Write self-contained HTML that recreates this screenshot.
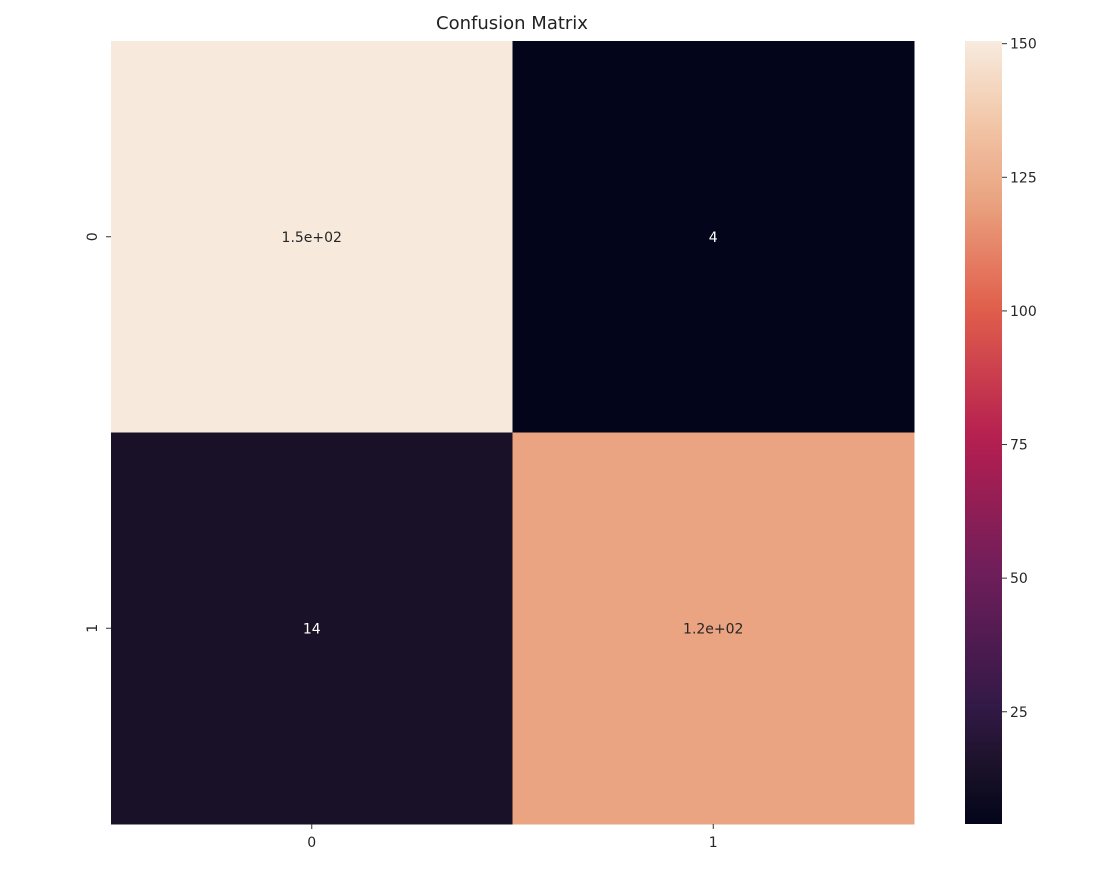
<!DOCTYPE html>
<html><head><meta charset="utf-8"><style>
body{margin:0;background:#fff;font-family:"Liberation Sans","DejaVu Sans",sans-serif}
svg text{font-family:"DejaVu Sans","Liberation Sans",sans-serif}
</style></head><body>
<svg id="chart" width="1096" height="876" xmlns="http://www.w3.org/2000/svg">
<defs><linearGradient id="cg" x1="0" y1="1" x2="0" y2="0"></linearGradient></defs>
<text x="512" y="29" font-size="18" text-anchor="middle" fill="#222">Confusion Matrix</text>
<g id="cells"></g>
<g id="axes"></g>
<rect id="cbar" x="965" y="41" width="37" height="783" fill="url(#cg)"/>
<g id="cbticks"></g>
</svg>
<script>
const rowLabels=["0","1"];
const colLabels=["0","1"];
const values=[[150,4],[14,121]];
const annots=[["1.5e+02","4"],["14","1.2e+02"]];
const cbTicks=[25,50,75,100,125,150];
const vmin=4, vmax=150.5;
const stops=[[0,[3,5,26]],[0.07,[26,17,40]],[0.15,[50,25,70]],[0.32,[110,30,90]],[0.49,[180,30,80]],[0.66,[225,95,75]],[0.8,[234,165,130]],[0.9,[242,200,170]],[1,[247,235,223]]];
function cmap(t){t=Math.max(0,Math.min(1,t));for(let i=1;i<stops.length;i++){if(t<=stops[i][0]){const a=stops[i-1],b=stops[i],f=(t-a[0])/(b[0]-a[0]);const c=a[1].map((v,k)=>Math.round(v+(b[1][k]-v)*f));return `rgb(${c})`;}}return `rgb(${stops[stops.length-1][1]})`;}
const NS="http://www.w3.org/2000/svg";
const X0=111,X1=914,Y0=41,Y1=824;
const cw=(X1-X0)/colLabels.length, ch=(Y1-Y0)/rowLabels.length;
const xPos=j=>X0+j*cw, yPos=i=>Y0+i*ch;
const cy=v=>Y1-(v-vmin)/(vmax-vmin)*(Y1-Y0);
function mk(tag,attrs,parent){const e=document.createElementNS(NS,tag);for(const k in attrs)e.setAttribute(k,attrs[k]);parent.appendChild(e);return e;}
const cells=document.getElementById('cells'),axes=document.getElementById('axes');
values.forEach((row,i)=>row.forEach((v,j)=>{
 const t=(v-vmin)/(vmax-vmin);
 const r=mk('rect',{x:xPos(j),y:yPos(i),width:cw+0.5,height:ch+0.5,fill:cmap(t)},cells);
 
 
 const tx=mk('text',{x:xPos(j)+cw/2,y:yPos(i)+ch/2+5,'font-size':14,'text-anchor':'middle',fill:t>0.5?'#262626':'#fff'},cells);
 tx.textContent=annots[i][j];
 
 
}));
colLabels.forEach((l,j)=>{const x=xPos(j)+cw/2;
 mk('line',{x1:x,x2:x,y1:Y1,y2:Y1+5,stroke:'#333'},axes);
 const t=mk('text',{x:x,y:Y1+23,'font-size':14,'text-anchor':'middle',fill:'#262626'},axes);t.textContent=l;
 
 });
rowLabels.forEach((l,i)=>{const y=yPos(i)+ch/2;
 mk('line',{x1:X0-5,x2:X0,y1:y,y2:y,stroke:'#333'},axes);
 const t=mk('text',{x:0,y:0,'font-size':14,'text-anchor':'middle',fill:'#262626',transform:`translate(${X0-14},${y}) rotate(-90)`},axes);t.textContent=l;
 
 });
const g=document.getElementById('cg');
for(let k=0;k<=40;k++){const t=k/40;mk('stop',{offset:t,'stop-color':cmap(t)},g);}
const cbt=document.getElementById('cbticks');
cbTicks.forEach(v=>{const y=cy(v);
 mk('line',{x1:1002,x2:1007,y1:y,y2:y,stroke:'#333'},cbt);
 const t=mk('text',{x:1010,y:y+5,'font-size':14,fill:'#262626'},cbt);t.textContent=v;
 
 });
</script>
</body></html>
